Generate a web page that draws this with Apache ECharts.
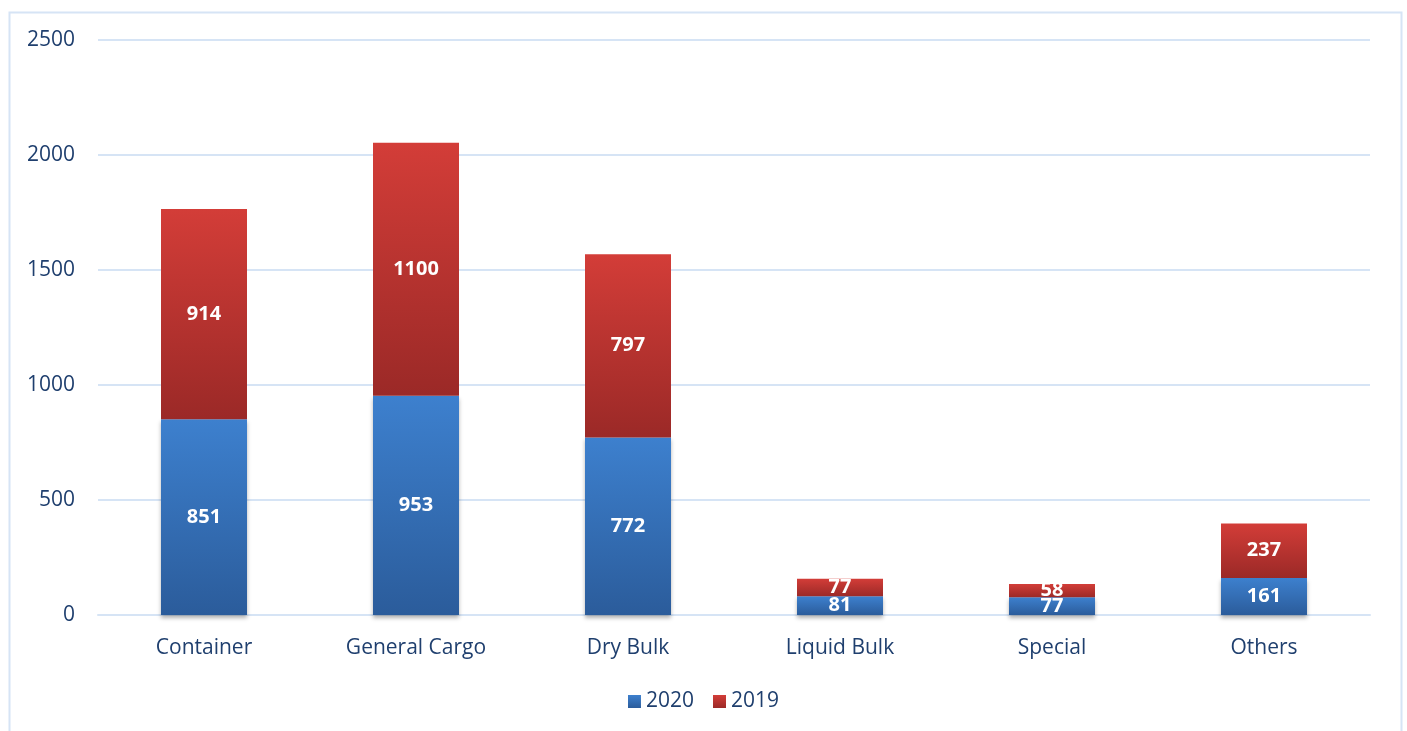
<!DOCTYPE html>
<html>
<head>
<meta charset="utf-8">
<script src="https://cdn.jsdelivr.net/npm/echarts@6/dist/echarts.min.js"></script>
<style>
  html, body { margin: 0; padding: 0; background: #fff; }
  #main { width: 1407px; height: 731px; }
</style>
</head>
<body>
<div id="main"></div>
<script>
var categories = ['Container', 'General Cargo', 'Dry Bulk', 'Liquid Bulk', 'Special', 'Others']
var values2020 = [851, 953, 772, 81, 77, 161]
var values2019 = [914, 1100, 797, 77, 58, 237]

var textColor = '#1f3f6e'
var fontName = 'Open Sans'

function grad (top, bottom) {
  return new echarts.graphic.LinearGradient(0, 0, 0, 1, [
    { offset: 0, color: top },
    { offset: 1, color: bottom }
  ])
}

var myChart = echarts.init(document.getElementById('main'))
myChart.setOption({
  animation: false,
  textStyle: { fontFamily: fontName },
  graphic: [{
    type: 'rect',
    left: 7,
    top: 10,
    shape: { width: 1392, height: 740 },
    style: { fill: 'none', stroke: '#d6e4f5', lineWidth: 2 },
    silent: true
  }],
  grid: { left: 98, right: 37, top: 40, bottom: 116 },
  legend: {
    top: 686,
    left: 'center',
    itemWidth: 13,
    itemHeight: 13,
    itemGap: 19,
    icon: 'rect',
    textStyle: { color: textColor, fontSize: 21, fontFamily: fontName },
    data: ['2020', '2019']
  },
  xAxis: {
    type: 'category',
    data: categories,
    axisLine: { lineStyle: { color: '#d6e4f5', width: 2 } },
    axisTick: { show: false },
    axisLabel: { color: textColor, fontSize: 21, margin: 23, fontFamily: fontName }
  },
  yAxis: {
    type: 'value',
    min: 0,
    max: 2500,
    interval: 500,
    axisLine: { show: false },
    axisTick: { show: false },
    splitLine: { lineStyle: { color: '#d6e4f5', width: 2 } },
    axisLabel: {
      color: textColor,
      fontSize: 21,
      margin: 23,
      align: 'right',
      fontFamily: fontName,
      formatter: function (v) { return String(v) }
    }
  },
  series: [{
    name: '2020',
    type: 'bar',
    stack: 'total',
    barWidth: 86,
    data: values2020,
    itemStyle: {
      color: grad('#3d80ce', '#2b5c9b'),
      shadowColor: 'rgba(0,0,0,0.3)',
      shadowBlur: 4,
      shadowOffsetY: 3
    },
    label: {
      show: true,
      position: 'inside',
      color: '#fff',
      fontSize: 20,
      fontWeight: 'bold',
      fontFamily: fontName
    }
  }, {
    name: '2019',
    type: 'bar',
    stack: 'total',
    barWidth: 86,
    data: values2019,
    itemStyle: {
      color: grad('#d33d38', '#9b2927')
    },
    label: {
      show: true,
      position: 'inside',
      color: '#fff',
      fontSize: 20,
      fontWeight: 'bold',
      fontFamily: fontName
    }
  }]
})
window.addEventListener('resize', function () {
  myChart.resize()
})
</script>
</body>
</html>
